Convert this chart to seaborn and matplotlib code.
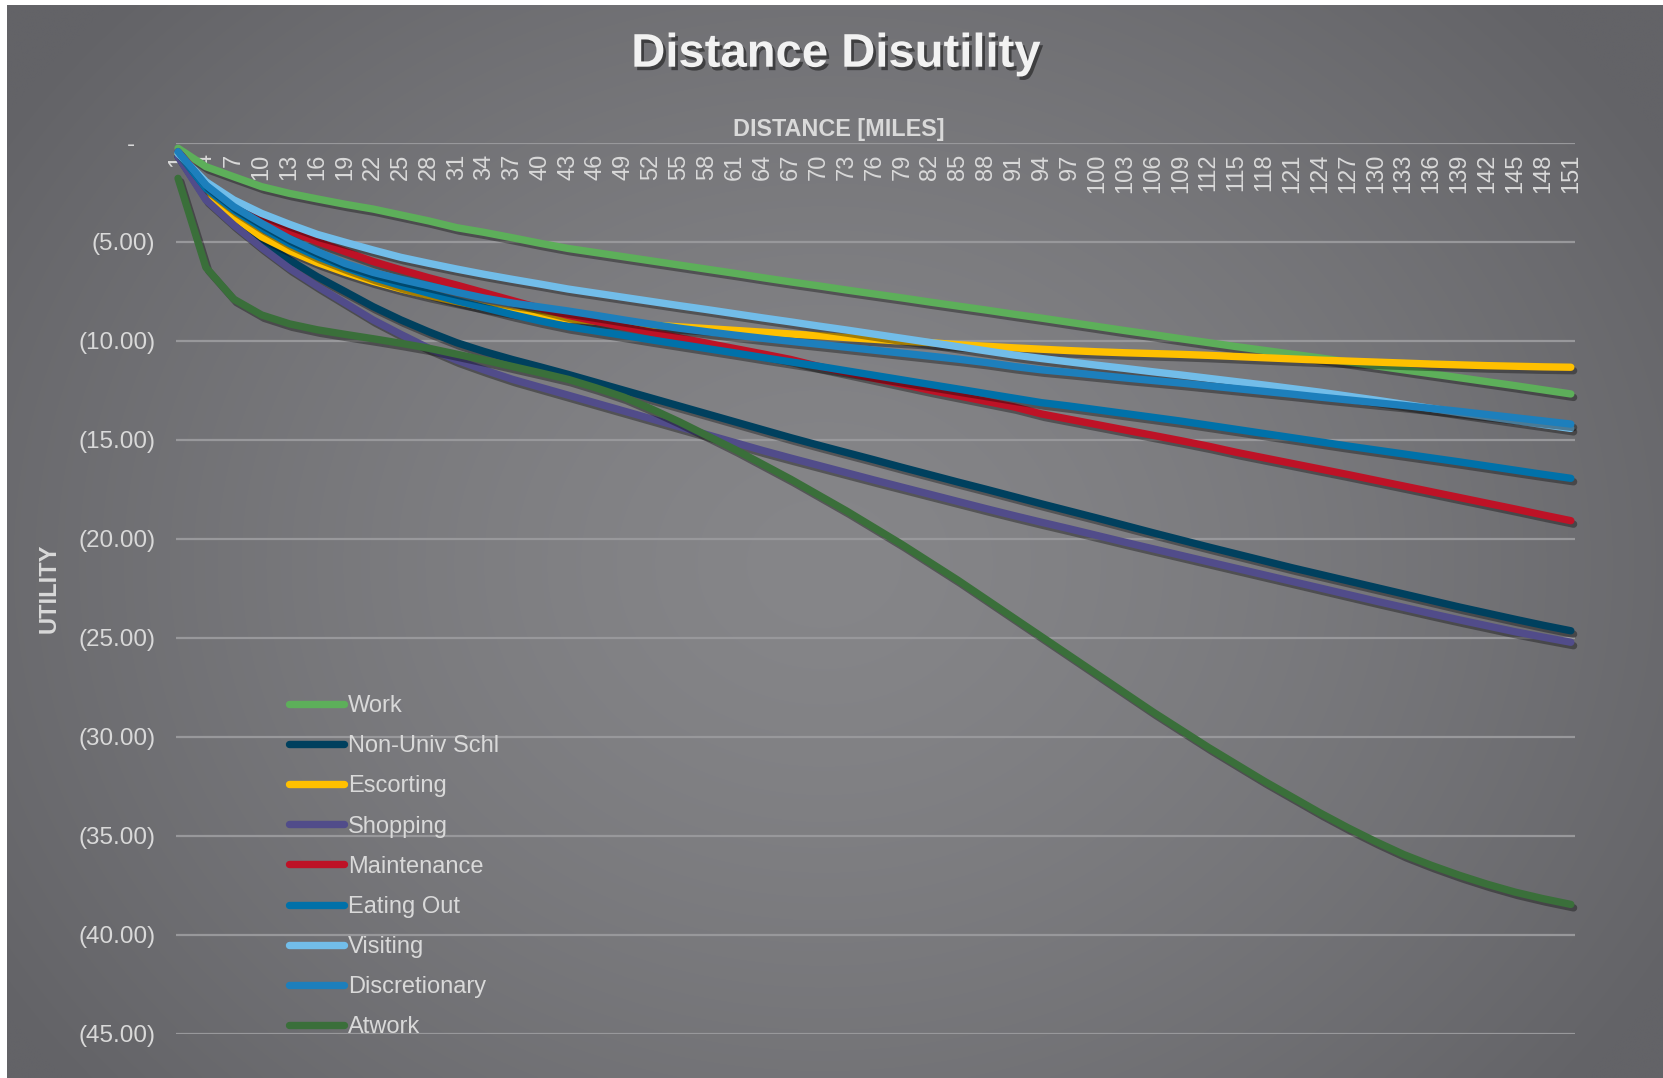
import numpy as np
import pandas as pd
import matplotlib
matplotlib.use("Agg")
import matplotlib.pyplot as plt
import matplotlib.patheffects as pe
from matplotlib.lines import Line2D
from matplotlib.ticker import FuncFormatter
import seaborn as sns

# ---- data: utility by trip distance (miles) ----
distance = [1, 4, 7, 10, 13, 16, 19, 22, 25, 28, 31, 34, 37, 40, 43, 46, 49, 52, 55, 58,
            61, 64, 67, 70, 73, 76, 79, 82, 85, 88, 91, 94, 97, 100, 103, 106, 109, 112,
            115, 118, 121, 124, 127, 130, 133, 136, 139, 142, 145, 148, 151]

work = [-0.28, -1.21, -1.72, -2.22, -2.56, -2.84, -3.11, -3.35, -3.65, -3.95,
        -4.29, -4.53, -4.80, -5.08, -5.34, -5.55, -5.76, -5.97, -6.18, -6.39,
        -6.60, -6.82, -7.03, -7.23, -7.44, -7.64, -7.84, -8.05, -8.25, -8.45,
        -8.66, -8.86, -9.07, -9.28, -9.49, -9.69, -9.90, -10.10, -10.30, -10.49,
        -10.68, -10.87, -11.07, -11.27, -11.47, -11.67, -11.87, -12.07, -12.27, -12.48,
        -12.69]
non_univ_schl = [-0.70, -2.73, -3.90, -5.00, -5.92, -6.77, -7.52, -8.28, -8.95, -9.55,
                 -10.10, -10.55, -10.95, -11.32, -11.70, -12.10, -12.50, -12.90, -13.30, -13.70,
                 -14.10, -14.50, -14.90, -15.28, -15.65, -16.02, -16.40, -16.77, -17.14, -17.50,
                 -17.87, -18.24, -18.60, -18.96, -19.33, -19.70, -20.06, -20.42, -20.77, -21.12,
                 -21.47, -21.80, -22.13, -22.46, -22.79, -23.12, -23.45, -23.76, -24.07, -24.37,
                 -24.65]
escorting = [-0.55, -2.56, -3.74, -4.75, -5.45, -6.05, -6.55, -7.00, -7.38, -7.72,
             -8.02, -8.30, -8.55, -8.74, -8.90, -9.02, -9.12, -9.21, -9.30, -9.39,
             -9.48, -9.57, -9.66, -9.75, -9.84, -9.93, -10.02, -10.10, -10.20, -10.28,
             -10.36, -10.43, -10.50, -10.56, -10.61, -10.65, -10.69, -10.74, -10.80, -10.86,
             -10.92, -10.98, -11.03, -11.08, -11.13, -11.18, -11.22, -11.26, -11.29, -11.32,
             -11.34]
shopping = [-0.70, -2.89, -4.16, -5.30, -6.35, -7.25, -8.10, -8.95, -9.68, -10.38,
            -10.98, -11.48, -11.95, -12.35, -12.75, -13.15, -13.55, -13.95, -14.35, -14.75,
            -15.15, -15.55, -15.93, -16.30, -16.67, -17.04, -17.40, -17.76, -18.12, -18.48,
            -18.83, -19.17, -19.50, -19.84, -20.18, -20.51, -20.84, -21.17, -21.50, -21.83,
            -22.16, -22.49, -22.82, -23.15, -23.47, -23.79, -24.10, -24.40, -24.70, -24.97,
            -25.23]
maintenance = [-0.45, -2.05, -2.97, -3.82, -4.45, -5.00, -5.50, -6.00, -6.42, -6.82,
               -7.19, -7.58, -7.97, -8.36, -8.72, -9.02, -9.30, -9.58, -9.86, -10.13,
               -10.40, -10.67, -10.95, -11.30, -11.60, -11.90, -12.20, -12.50, -12.78, -13.06,
               -13.34, -13.70, -13.97, -14.24, -14.51, -14.78, -15.05, -15.33, -15.64, -15.92,
               -16.20, -16.48, -16.76, -17.05, -17.34, -17.63, -17.92, -18.21, -18.50, -18.80,
               -19.09]
eating_out = [-0.50, -2.30, -3.40, -4.30, -5.10, -5.75, -6.30, -6.80, -7.22, -7.60,
              -7.98, -8.33, -8.68, -9.00, -9.29, -9.51, -9.73, -9.96, -10.18, -10.40,
              -10.62, -10.85, -11.07, -11.29, -11.52, -11.75, -11.98, -12.21, -12.44, -12.67,
              -12.90, -13.13, -13.30, -13.49, -13.68, -13.87, -14.06, -14.27, -14.48, -14.69,
              -14.90, -15.11, -15.32, -15.52, -15.72, -15.92, -16.12, -16.33, -16.54, -16.75,
              -16.95]
visiting = [-0.54, -1.97, -2.89, -3.57, -4.12, -4.63, -5.03, -5.42, -5.79, -6.09,
            -6.38, -6.65, -6.90, -7.14, -7.39, -7.60, -7.81, -8.02, -8.23, -8.43,
            -8.64, -8.85, -9.05, -9.26, -9.46, -9.67, -9.88, -10.09, -10.30, -10.51,
            -10.72, -10.90, -11.07, -11.24, -11.40, -11.57, -11.73, -11.90, -12.07, -12.24,
            -12.42, -12.60, -12.80, -13.00, -13.21, -13.42, -13.63, -13.83, -14.03, -14.23,
            -14.43]
discretionary = [-0.45, -2.14, -3.23, -4.07, -4.85, -5.50, -6.10, -6.55, -6.90, -7.22,
                 -7.55, -7.85, -8.10, -8.30, -8.50, -8.72, -8.95, -9.17, -9.37, -9.55,
                 -9.72, -9.88, -10.03, -10.18, -10.33, -10.48, -10.63, -10.78, -10.93, -11.10,
                 -11.30, -11.47, -11.60, -11.74, -11.88, -12.01, -12.14, -12.28, -12.42, -12.56,
                 -12.70, -12.85, -12.99, -13.13, -13.27, -13.42, -13.57, -13.73, -13.89, -14.05,
                 -14.21]
atwork = [-1.80, -6.30, -7.90, -8.70, -9.15, -9.45, -9.68, -9.90, -10.13, -10.38,
          -10.68, -10.98, -11.30, -11.62, -11.95, -12.38, -12.85, -13.45, -14.10, -14.80,
          -15.50, -16.25, -17.00, -17.80, -18.60, -19.45, -20.30, -21.20, -22.10, -23.05,
          -24.00, -24.95, -25.90, -26.85, -27.80, -28.75, -29.65, -30.55, -31.40, -32.25,
          -33.05, -33.85, -34.60, -35.30, -35.95, -36.50, -37.00, -37.45, -37.85, -38.18,
          -38.47]

purposes = ["Work", "Non-Univ Schl", "Escorting", "Shopping", "Maintenance",
            "Eating Out", "Visiting", "Discretionary", "Atwork"]
series = [work, non_univ_schl, escorting, shopping, maintenance,
          eating_out, visiting, discretionary, atwork]
colors = ["#5daf5a", "#00405e", "#ffc000", "#514c8a", "#be1226",
          "#0071a9", "#72bde9", "#1d7fbc", "#3a6f3a"]

df = pd.concat(
    [pd.DataFrame({"Distance": distance, "Utility": vals, "Purpose": name})
     for name, vals in zip(purposes, series)],
    ignore_index=True,
)

# ---- style ----
sns.set_theme(style="white")
plt.rcParams["font.family"] = ["Liberation Sans", "DejaVu Sans"]
TEXT = "#d9d9d9"

W, H = 1663, 1078
fig = plt.figure(figsize=(W / 100, H / 100), dpi=100)
fig.patch.set_facecolor("white")

# chart-area fill: radial gray shading
bg = fig.add_axes([0, 0, 1, 1], zorder=-10)
bg.set_xlim(0, W)
bg.set_ylim(H, 0)
bg.axis("off")
yy, xx = np.mgrid[0:H:2, 0:W:2]
r = np.clip(np.hypot((xx - 820) / 980, (yy - 560) / 820), 0, 1)
center = np.array([134, 134, 137]) / 255
edge = np.array([99, 99, 103]) / 255
img = center + (edge - center) * (r[..., None] ** 1.4)
bg.imshow(img, extent=(7, W, H, 5), aspect="auto", interpolation="bilinear")

# plot area
x0, x1 = 176, 1575
y0, y1 = 142.7, 1033.7
ax = fig.add_axes([x0 / W, 1 - y1 / H, (x1 - x0) / W, (y1 - y0) / H])
ax.set_facecolor("none")

sns.lineplot(data=df, x="Distance", y="Utility", hue="Purpose", hue_order=purposes,
             palette=dict(zip(purposes, colors)), linewidth=5.3, sort=False,
             estimator=None, legend=False, ax=ax)

for line in ax.lines:
    line.set_solid_capstyle("round")
    line.set_solid_joinstyle("round")
    line.set_clip_on(False)
    line.set_path_effects([
        pe.SimpleLineShadow(offset=(2.0, -2.5), shadow_color="black", alpha=0.35),
        pe.Normal(),
    ])

ax.set_xlim(0.78, 151.45)
ax.set_ylim(-45, 0)
ax.set_xlabel("")
ax.set_ylabel("")

# value axis: accounting-style labels
ax.set_yticks(np.arange(-45, 1, 5))
ax.yaxis.set_major_formatter(
    FuncFormatter(lambda v, p: "-   " if abs(v) < 1e-9 else f"({abs(v):.2f})"))
ax.tick_params(axis="y", length=0, pad=15, labelsize=17.5, labelcolor=TEXT)
ax.yaxis.grid(True, color="#98989b", linewidth=1.6)
ax.xaxis.grid(False)
ax.set_axisbelow(True)

# category axis crosses at zero (top of the plot), labels hang below it
ax.spines["bottom"].set_position(("data", 0))
for s in ax.spines.values():
    s.set_visible(False)
ax.set_xticks(distance)
ax.set_xticklabels([str(d) for d in distance], rotation=90)
ax.tick_params(axis="x", length=0, pad=8, labelsize=17, labelcolor=TEXT)

# titles
fig.text(836 / W, 1 - 66.7 / H, "Distance Disutility", ha="center", va="baseline",
         fontsize=34, fontweight="bold", color="#f2f2f2",
         path_effects=[pe.SimplePatchShadow(offset=(2, -2.5), shadow_rgbFace="black", alpha=0.45),
                       pe.Normal()])
fig.text(839 / W, 1 - 136 / H, "DISTANCE [MILES]", ha="center", va="baseline",
         fontsize=16.8, fontweight="bold", color=TEXT)
fig.text(49 / W, 1 - 588 / H, "UTILITY", ha="center", va="center", rotation=90,
         fontsize=17, fontweight="bold", color=TEXT)

# legend
handles = [Line2D([0], [0], color=c, linewidth=5.3, solid_capstyle="round") for c in colors]
leg = ax.legend(handles, purposes, loc="upper left",
                bbox_to_anchor=(288.5 / W, 1 - 695 / H), bbox_transform=fig.transFigure,
                frameon=False, fontsize=17, handlelength=2.37, handletextpad=0.15,
                labelspacing=0.77, borderpad=0, borderaxespad=0)
for t in leg.get_texts():
    t.set_color(TEXT)

fig.savefig("out.png", dpi=100, facecolor=fig.get_facecolor())
